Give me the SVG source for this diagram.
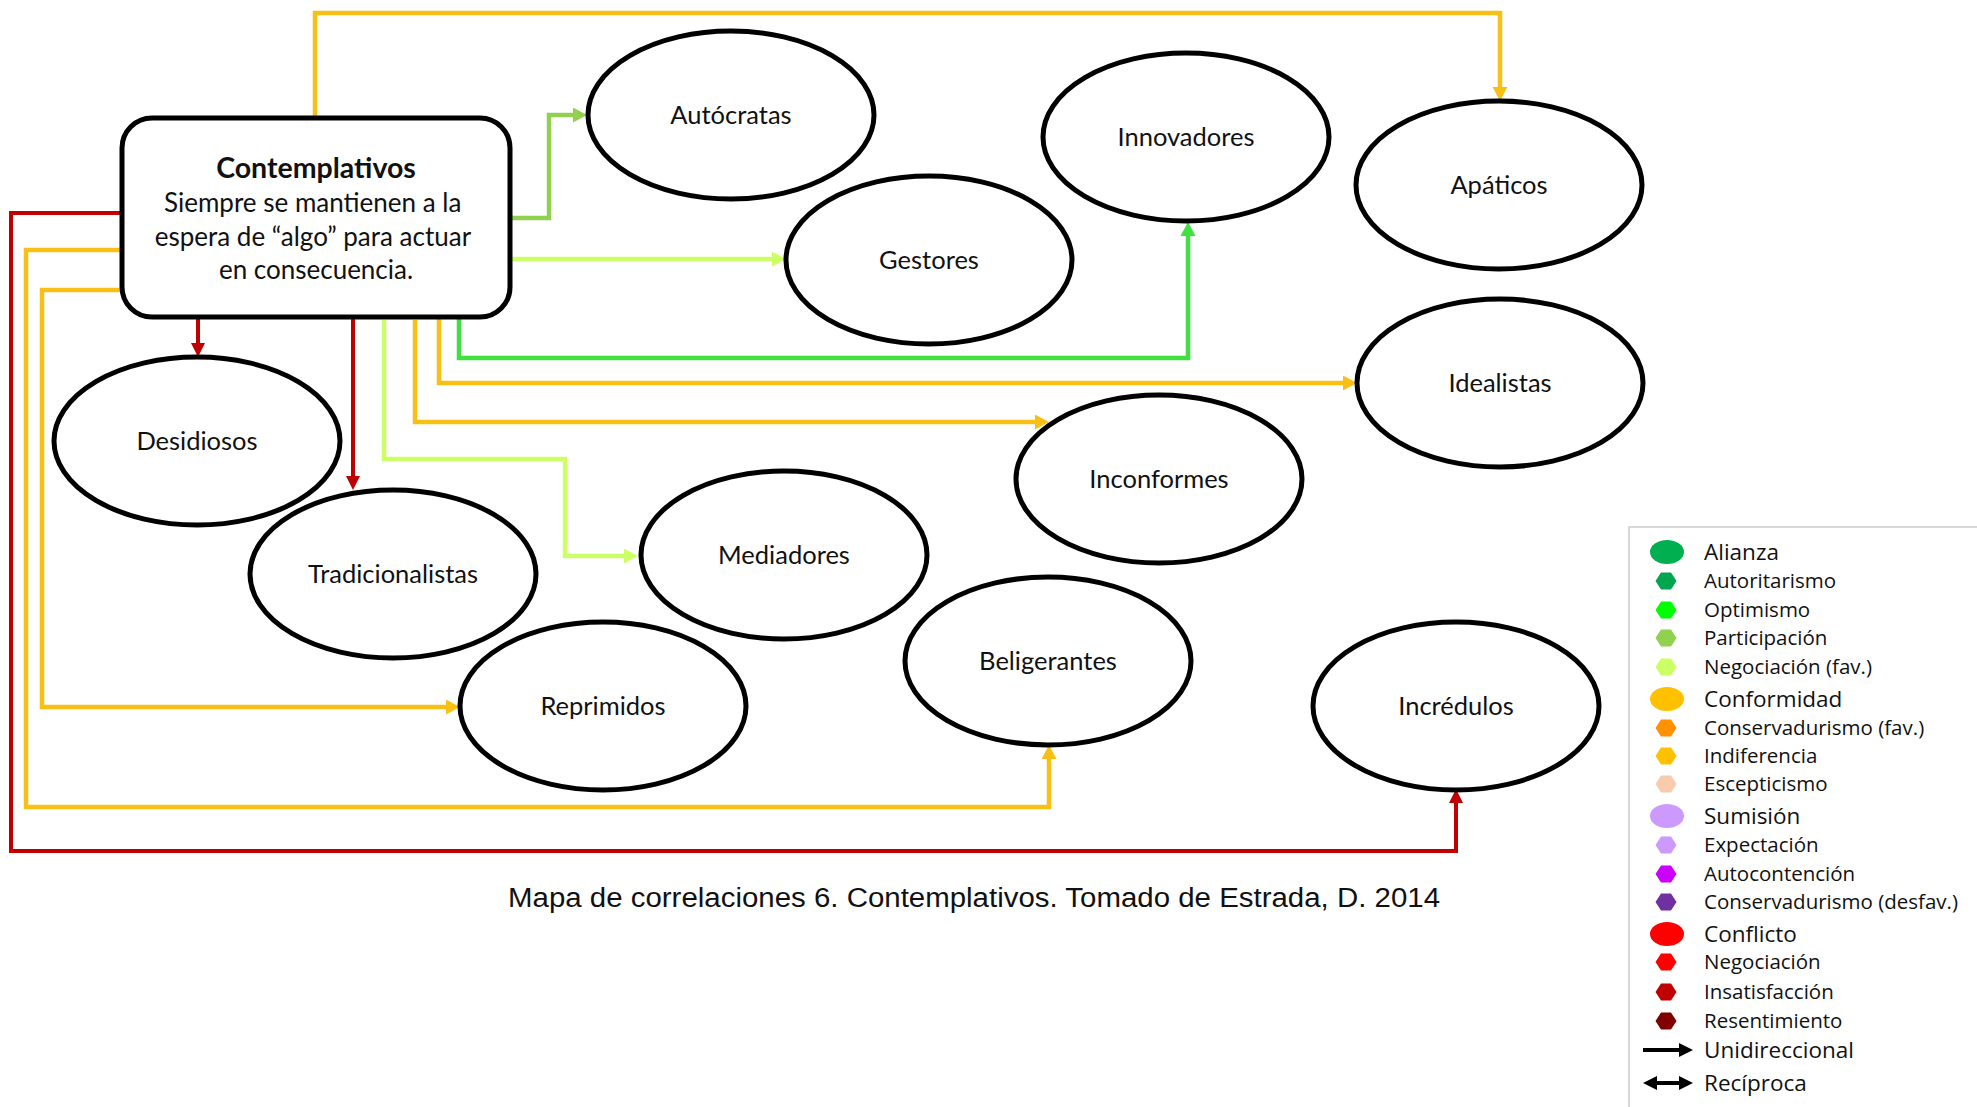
<svg xmlns="http://www.w3.org/2000/svg" width="1977" height="1107" viewBox="0 0 1977 1107">
<style>
.ln{fill:none;stroke-width:4.5;stroke-linejoin:miter}
.gold{stroke:#F8C014}
.red{stroke:#C00000;stroke-width:4}
.lg{stroke:#CCFF66}
.pg{stroke:#92D050}
.bg{stroke:#40E040}
.node ellipse{fill:#fff;stroke:#000;stroke-width:5}
.lbl{font-family:Lato,"Open Sans",sans-serif;font-size:25.5px;fill:#111;text-anchor:middle}
.leg{font-family:"Open Sans","Noto Sans",sans-serif;fill:#111}
.h{font-size:22.5px}
.s{font-size:20.5px}
</style>
<defs>
<marker id="aGold" markerUnits="userSpaceOnUse" markerWidth="16" markerHeight="16" refX="1" refY="7.5" orient="auto"><path d="M0,0 L14,7.5 L0,15 z" fill="#F8C014"/></marker>
<marker id="aRed" markerUnits="userSpaceOnUse" markerWidth="16" markerHeight="16" refX="1" refY="7" orient="auto"><path d="M0,0 L14,7 L0,14 z" fill="#C00000"/></marker>
<marker id="aLg" markerUnits="userSpaceOnUse" markerWidth="16" markerHeight="16" refX="1" refY="7.5" orient="auto"><path d="M0,0 L14,7.5 L0,15 z" fill="#CCFF66"/></marker>
<marker id="aPg" markerUnits="userSpaceOnUse" markerWidth="16" markerHeight="16" refX="1" refY="7.5" orient="auto"><path d="M0,0 L14,7.5 L0,15 z" fill="#92D050"/></marker>
<marker id="aBg" markerUnits="userSpaceOnUse" markerWidth="16" markerHeight="16" refX="1" refY="7.5" orient="auto"><path d="M0,0 L14,7.5 L0,15 z" fill="#40E040"/></marker>
<marker id="aBlk" markerUnits="userSpaceOnUse" markerWidth="16" markerHeight="16" refX="1" refY="7" orient="auto"><path d="M0,0 L14,7 L0,14 z" fill="#000"/></marker>
<marker id="aBlkS" markerUnits="userSpaceOnUse" markerWidth="16" markerHeight="16" refX="13" refY="7" orient="auto"><path d="M14,0 L0,7 L14,14 z" fill="#000"/></marker>
</defs>
<rect width="1977" height="1107" fill="#fff"/>

<g id="connectors">
<path class="ln gold" d="M315,117 V13 H1500 V88" marker-end="url(#aGold)"/>
<path class="ln pg" d="M511,218 H549 V115 H574" marker-end="url(#aPg)"/>
<path class="ln lg" d="M511,259 H773" marker-end="url(#aLg)"/>
<path class="ln bg" d="M459,318 V358 H1188 V235" marker-end="url(#aBg)"/>
<path class="ln gold" d="M439,318 V383 H1344" marker-end="url(#aGold)"/>
<path class="ln gold" d="M415,320 V422 H1036" marker-end="url(#aGold)"/>
<path class="ln lg" d="M384,320 V459 H565 V556 H625" marker-end="url(#aLg)"/>
<path class="ln red" d="M198,318 V344" marker-end="url(#aRed)"/>
<path class="ln red" d="M353,318 V477" marker-end="url(#aRed)"/>
<path class="ln red" d="M121,213 H11 V851 H1456 V802" marker-end="url(#aRed)"/>
<path class="ln gold" d="M121,250 H26 V807 H1049 V758" marker-end="url(#aGold)"/>
<path class="ln gold" d="M121,290 H42 V707 H447" marker-end="url(#aGold)"/>
</g>

<g id="contemplativos">
<rect x="122" y="118" width="388" height="199" rx="30" ry="30" fill="#fff" stroke="#000" stroke-width="5"/>
<text x="316" y="178" font-family="Lato,'Open Sans',sans-serif" font-size="28.5" font-weight="bold" text-anchor="middle" fill="#111">Contemplativos</text>
<text font-family="Lato,'Open Sans',sans-serif" font-size="26" text-anchor="middle" fill="#111">
<tspan x="316" y="212">Siempre se mantienen a la</tspan>
<tspan x="316" y="246">espera de “algo” para actuar</tspan>
<tspan x="316" y="279">en consecuencia.</tspan>
</text>
</g>

<g id="autocratas" class="node"><ellipse cx="731" cy="115" rx="143" ry="84"/><text class="lbl" x="731" y="124">Autócratas</text></g>
<g id="innovadores" class="node"><ellipse cx="1186" cy="137" rx="143" ry="84"/><text class="lbl" x="1186" y="146">Innovadores</text></g>
<g id="apaticos" class="node"><ellipse cx="1499" cy="185" rx="143" ry="84"/><text class="lbl" x="1499" y="194">Apáticos</text></g>
<g id="gestores" class="node"><ellipse cx="929" cy="260" rx="143" ry="84"/><text class="lbl" x="929" y="269">Gestores</text></g>
<g id="idealistas" class="node"><ellipse cx="1500" cy="383" rx="143" ry="84"/><text class="lbl" x="1500" y="392">Idealistas</text></g>
<g id="desidiosos" class="node"><ellipse cx="197" cy="441" rx="143" ry="84"/><text class="lbl" x="197" y="450">Desidiosos</text></g>
<g id="inconformes" class="node"><ellipse cx="1159" cy="479" rx="143" ry="84"/><text class="lbl" x="1159" y="488">Inconformes</text></g>
<g id="tradicionalistas" class="node"><ellipse cx="393" cy="574" rx="143" ry="84"/><text class="lbl" x="393" y="583">Tradicionalistas</text></g>
<g id="mediadores" class="node"><ellipse cx="784" cy="555" rx="143" ry="84"/><text class="lbl" x="784" y="564">Mediadores</text></g>
<g id="beligerantes" class="node"><ellipse cx="1048" cy="661" rx="143" ry="84"/><text class="lbl" x="1048" y="670">Beligerantes</text></g>
<g id="reprimidos" class="node"><ellipse cx="603" cy="706" rx="143" ry="84"/><text class="lbl" x="603" y="715">Reprimidos</text></g>
<g id="incredulos" class="node"><ellipse cx="1456" cy="706" rx="143" ry="84"/><text class="lbl" x="1456" y="715">Incrédulos</text></g>

<text id="caption" x="508" y="907" font-family="'Liberation Sans',Arial,sans-serif" font-size="27" fill="#111" textLength="932" lengthAdjust="spacingAndGlyphs">Mapa de correlaciones 6. Contemplativos. Tomado de Estrada, D. 2014</text>

<g id="legend">
<rect x="1629" y="527" width="400" height="620" fill="#fff" stroke="#CCCCCC" stroke-width="1.5"/>
<ellipse cx="1667" cy="552" rx="17" ry="12" fill="#00B050"/>
<text class="leg h" x="1704" y="560">Alianza</text>
<polygon points="1655.5,581 1661,572.5 1671,572.5 1676.5,581 1671,589.5 1661,589.5" fill="#00A550"/>
<text class="leg s" x="1704" y="588">Autoritarismo</text>
<polygon points="1655.5,610 1661,601.5 1671,601.5 1676.5,610 1671,618.5 1661,618.5" fill="#00FF00"/>
<text class="leg s" x="1704" y="617">Optimismo</text>
<polygon points="1655.5,638 1661,629.5 1671,629.5 1676.5,638 1671,646.5 1661,646.5" fill="#92D050"/>
<text class="leg s" x="1704" y="645">Participación</text>
<polygon points="1655.5,667 1661,658.5 1671,658.5 1676.5,667 1671,675.5 1661,675.5" fill="#CCFF66"/>
<text class="leg s" x="1704" y="674">Negociación (fav.)</text>
<ellipse cx="1667" cy="699" rx="17" ry="12" fill="#FFC000"/>
<text class="leg h" x="1704" y="707">Conformidad</text>
<polygon points="1655.5,728 1661,719.5 1671,719.5 1676.5,728 1671,736.5 1661,736.5" fill="#FF9100"/>
<text class="leg s" x="1704" y="735">Conservadurismo (fav.)</text>
<polygon points="1655.5,756 1661,747.5 1671,747.5 1676.5,756 1671,764.5 1661,764.5" fill="#FFC000"/>
<text class="leg s" x="1704" y="763">Indiferencia</text>
<polygon points="1655.5,784 1661,775.5 1671,775.5 1676.5,784 1671,792.5 1661,792.5" fill="#F8CBAD"/>
<text class="leg s" x="1704" y="791">Escepticismo</text>
<ellipse cx="1667" cy="816" rx="17" ry="12" fill="#CC99FF"/>
<text class="leg h" x="1704" y="824">Sumisión</text>
<polygon points="1655.5,845 1661,836.5 1671,836.5 1676.5,845 1671,853.5 1661,853.5" fill="#CC99FF"/>
<text class="leg s" x="1704" y="852">Expectación</text>
<polygon points="1655.5,874 1661,865.5 1671,865.5 1676.5,874 1671,882.5 1661,882.5" fill="#CC00FF"/>
<text class="leg s" x="1704" y="881">Autocontención</text>
<polygon points="1655.5,902 1661,893.5 1671,893.5 1676.5,902 1671,910.5 1661,910.5" fill="#7030A0"/>
<text class="leg s" x="1704" y="909">Conservadurismo (desfav.)</text>
<ellipse cx="1667" cy="934" rx="17" ry="12" fill="#FF0000"/>
<text class="leg h" x="1704" y="942">Conflicto</text>
<polygon points="1655.5,962 1661,953.5 1671,953.5 1676.5,962 1671,970.5 1661,970.5" fill="#FF0000"/>
<text class="leg s" x="1704" y="969">Negociación</text>
<polygon points="1655.5,992 1661,983.5 1671,983.5 1676.5,992 1671,1000.5 1661,1000.5" fill="#C00000"/>
<text class="leg s" x="1704" y="999">Insatisfacción</text>
<polygon points="1655.5,1021 1661,1012.5 1671,1012.5 1676.5,1021 1671,1029.5 1661,1029.5" fill="#800000"/>
<text class="leg s" x="1704" y="1028">Resentimiento</text>
<path d="M1643,1050 H1680" stroke="#000" stroke-width="4" marker-end="url(#aBlk)"/>
<text class="leg h" x="1704" y="1058">Unidireccional</text>
<path d="M1656,1083 H1680" stroke="#000" stroke-width="4" marker-start="url(#aBlkS)" marker-end="url(#aBlk)"/>
<text class="leg h" x="1704" y="1091">Recíproca</text>
</g>
</svg>
